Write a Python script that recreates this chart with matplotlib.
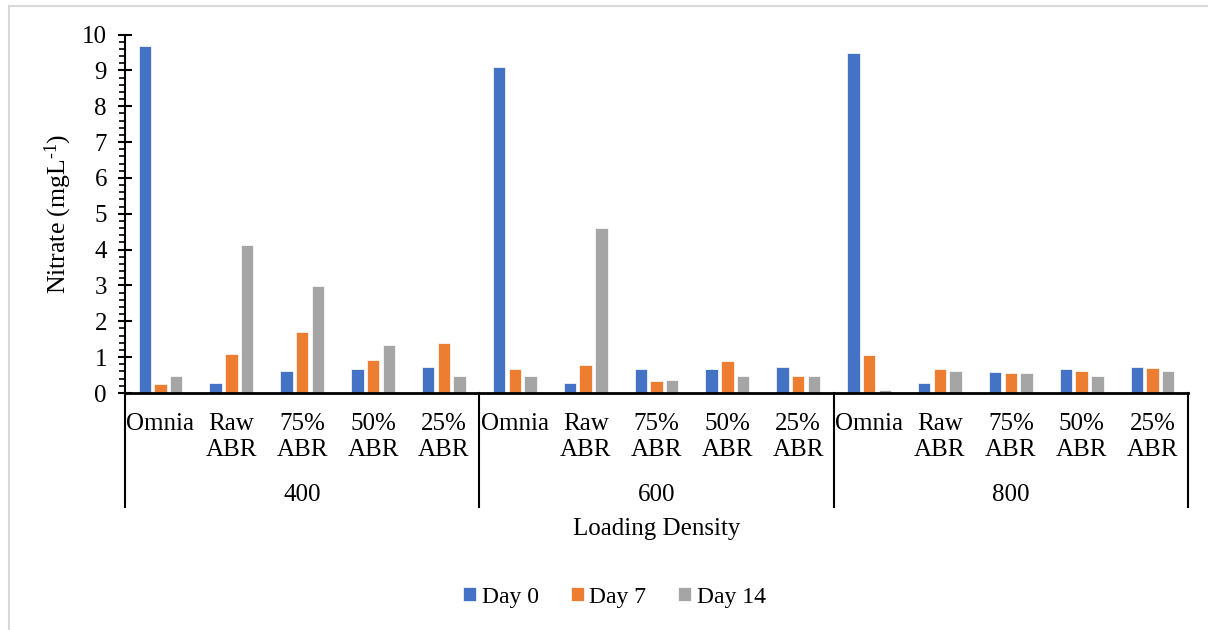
import matplotlib
matplotlib.use("Agg")
import matplotlib.pyplot as plt
import matplotlib.transforms as mtransforms
from matplotlib.lines import Line2D
import numpy as np

plt.rcParams['font.family'] = ['Liberation Serif', 'DejaVu Serif']
plt.rcParams['mathtext.fontset'] = 'custom'
plt.rcParams['mathtext.rm'] = 'Liberation Serif'
plt.rcParams['mathtext.it'] = 'Liberation Serif:italic'

# Data
densities = ["400", "600", "800"]
treatments = ["Omnia", "Raw\nABR", "75%\nABR", "50%\nABR", "25%\nABR"]
series_names = ["Day 0", "Day 7", "Day 14"]
day0 = [9.68, 0.29, 0.62, 0.66, 0.72,
        9.09, 0.29, 0.66, 0.66, 0.72,
        9.49, 0.29, 0.59, 0.66, 0.72]
day7 = [0.26, 1.09, 1.69, 0.93, 1.39,
        0.66, 0.79, 0.33, 0.89, 0.48,
        1.06, 0.66, 0.56, 0.62, 0.70]
day14 = [0.48, 4.12, 2.99, 1.33, 0.48,
         0.48, 4.59, 0.35, 0.48, 0.48,
         0.07, 0.62, 0.56, 0.48, 0.62]
colors = ["#4472C4", "#ED7D31", "#A5A5A5"]

FS = 18
W, H = 1208, 630
fig = plt.figure(figsize=(W / 100, H / 100), dpi=100)

# plot area in pixel coordinates
x0, x1 = 125, 1188
y_top, y_bot = 34.5, 393
ax = fig.add_axes([x0 / W, 1 - y_bot / H, (x1 - x0) / W, (y_bot - y_top) / H])

n = len(day0)
x = np.arange(n)
width = 0.175
step = 0.222
for i, (vals, c, name) in enumerate(zip([day0, day7, day14], colors, series_names)):
    ax.bar(x + (i - 1) * step, vals, width=width, color=c, edgecolor="white",
           linewidth=0.5, label=name, zorder=2)

ax.set_xlim(-0.5, n - 0.5)
ax.set_ylim(0, 10)
ax.set_yticks(np.arange(0, 11, 1))
ax.set_yticks(np.arange(0, 10.01, 0.2), minor=True)
ax.tick_params(axis="y", which="major", direction="inout", length=10, width=1.5,
               labelsize=FS, pad=8, colors="black")
ax.tick_params(axis="y", which="minor", direction="out", length=4.5, width=1.2)
ax.set_xticks([])
for s in ["top", "right"]:
    ax.spines[s].set_visible(False)
ax.spines["left"].set_linewidth(1.5)
ax.spines["bottom"].set_linewidth(2)

ax.set_ylabel("Nitrate (mgL$^{\u2010\\mathrm{1}}$)", fontsize=FS + 0.5)
ax.yaxis.set_label_coords(-(x0 - 74) / (x1 - x0), 0.5)

# multi-level category axis
trans = mtransforms.blended_transform_factory(ax.transData, ax.transAxes)
span = y_bot - y_top


def ay(py):
    return (y_bot - py) / span


labels = [t for _ in densities for t in treatments]
for xi, lab in zip(x, labels):
    ax.text(xi, ay(413), lab, transform=trans, ha="center", va="top",
            multialignment="center", fontsize=FS, linespacing=1.25)

ng = len(treatments)
for g, d in enumerate(densities):
    ax.text(g * ng + (ng - 1) / 2, ay(495), d, transform=trans, ha="center",
            va="center", fontsize=FS)
for b in range(len(densities) + 1):
    ax.plot([b * ng - 0.5, b * ng - 0.5], [0, ay(507)], transform=trans,
            color="black", lw=1.5, clip_on=False)

ax.text(0.5, ay(529), "Loading Density", transform=ax.transAxes, ha="center",
        va="center", fontsize=FS)

handles, labs = ax.get_legend_handles_labels()
fig.legend(handles, labs, loc="center", bbox_to_anchor=(614.5 / W, 1 - 597 / H),
           ncol=3, frameon=False, fontsize=17, handlelength=0.55, handleheight=0.55,
           handletextpad=0.25, columnspacing=1.35)

# chart area border
fig.add_artist(Line2D([8.5 / W, 1], [1 - 6 / H, 1 - 6 / H], color="#d9d9d9", lw=1.5))
fig.add_artist(Line2D([8.5 / W, 8.5 / W], [0, 1 - 6 / H], color="#d9d9d9", lw=1.5))

fig.savefig("out.png", dpi=100)
